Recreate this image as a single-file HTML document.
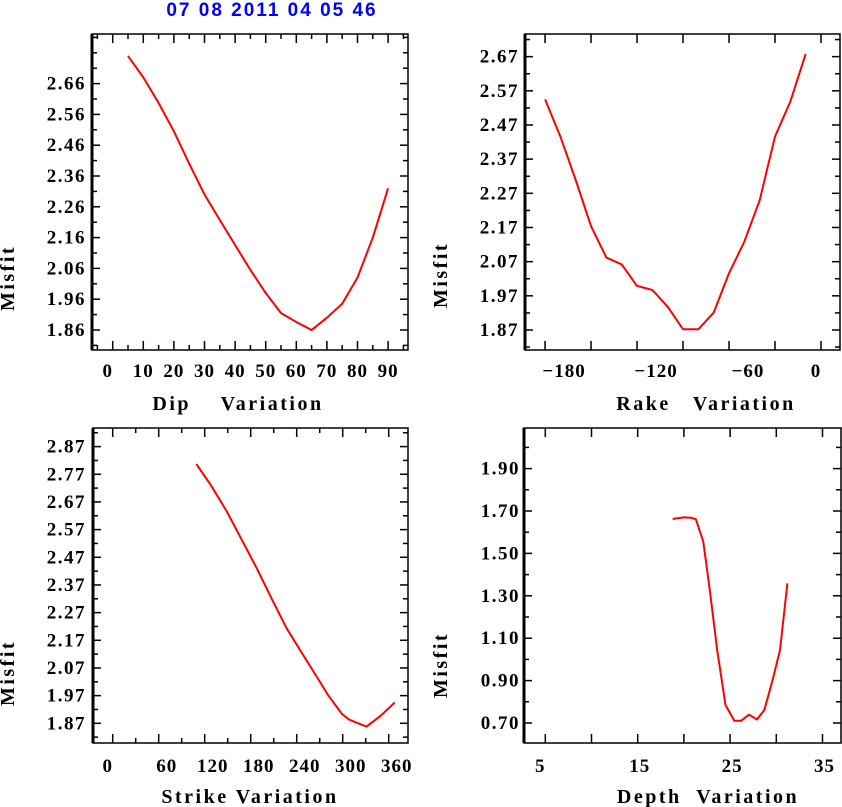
<!DOCTYPE html>
<html><head><meta charset="utf-8">
<style>
html,body{margin:0;padding:0;background:#fff;}
svg{display:block;}
text{font-family:"Liberation Serif",serif;white-space:pre;}
</style></head>
<body>
<svg id="chart" width="842" height="807" viewBox="0 0 842 807" xmlns="http://www.w3.org/2000/svg">
<text x="272" y="16" text-anchor="middle" fill="#0000ff" font-size="19" font-weight="bold" style="font-family:'Liberation Sans',sans-serif" letter-spacing="2">07 08 2011 04 05 46</text>
</svg>
<script>
// ---- Dip panel data ----
const dipX = [5,10,15,20,25,30,35,40,45,50,55,60,65,70,75,80,85,90];
const dipY = [2.75,2.68,2.597,2.505,2.40,2.30,2.217,2.136,2.055,1.98,1.915,1.886,1.86,1.90,1.945,2.03,2.16,2.32];
const dipXTicks = [0,10,20,30,40,50,60,70,80,90];
const dipYTicks = [1.86,1.96,2.06,2.16,2.26,2.36,2.46,2.56,2.66];
// ---- Rake panel data ----
const rakeX = [-180,-170,-160,-150,-140,-130,-120,-110,-100,-90,-80,-70,-60,-50,-40,-30,-20,-10];
const rakeY = [2.545,2.436,2.309,2.174,2.082,2.062,1.999,1.987,1.938,1.872,1.872,1.921,2.036,2.129,2.25,2.436,2.538,2.678];
const rakeXTicks = [-180,-120,-60,0];
const rakeYTicks = [1.87,1.97,2.07,2.17,2.27,2.37,2.47,2.57,2.67];
// ---- Strike panel data ----
const strikeX = [109,128,149,168,188,207,227,247,262,281,299,308,318,331,349,368];
const strikeY = [2.807,2.731,2.635,2.535,2.43,2.322,2.213,2.123,2.057,1.972,1.904,1.884,1.872,1.858,1.896,1.945];
const strikeXTicks = [0,60,120,180,240,300,360];
const strikeYTicks = [1.87,1.97,2.07,2.17,2.27,2.37,2.47,2.57,2.67,2.77,2.87];
// ---- Depth panel data ----
const depthX = [18.8,19.0,20.0,20.8,21.3,22.1,22.85,23.6,24.5,25.45,26.2,27.05,27.9,28.7,29.6,30.4,31.2];
const depthY = [1.661,1.664,1.670,1.668,1.661,1.555,1.312,1.044,0.785,0.711,0.711,0.739,0.717,0.761,0.903,1.044,1.359];
const depthXTicks = [5,15,25,35];
const depthYTicks = [0.70,0.90,1.10,1.30,1.50,1.70,1.90];

const NS = 'http://www.w3.org/2000/svg';
const svg = document.getElementById('chart');
function mk(tag, attrs, parent){
  const e = document.createElementNS(NS, tag);
  for (const k in attrs) e.setAttribute(k, attrs[k]);
  (parent||svg).appendChild(e);
  return e;
}

const panels = [
  {id:'dip', l:92, t:34, r:408, b:350, x0:112.7, xref:0, xs:3.06, yv:1.86, yp:330, ys:308,
   xs_data:dipX, ys_data:dipY, xt:dipXTicks, yt:dipYTicks, xmaj:10, xmin:5, ymin:0.05, dec:2,
   labR:86, xlabY:377, xoff:function(v){return v===0?-5:0;}, title:'Dip    Variation', tx:238, ty:410, mx:14, my:278},
  {id:'rake', l:525, t:34, r:840, b:350, x0:821, xref:0, xs:1.533, yv:1.87, yp:330, ys:341.7,
   xs_data:rakeX, ys_data:rakeY, xt:rakeXTicks, yt:rakeYTicks, xmaj:30, xmin:30, ymin:0.05, dec:2,
   labR:519, xlabY:377, xoff:function(v){return v===0?-5:19;}, title:'Rake   Variation', tx:706, ty:410, mx:447, my:275},
  {id:'strike', l:93, t:428, r:408, b:743, x0:112.7, xref:0, xs:0.7667, yv:1.87, yp:723.3, ys:276.7,
   xs_data:strikeX, ys_data:strikeY, xt:strikeXTicks, yt:strikeYTicks, xmaj:60, xmin:30, ymin:0.05, dec:2,
   labR:86, xlabY:772, xoff:function(v){return v===0?-5:8;}, title:'Strike Variation', tx:250, ty:803, mx:14, my:673},
  {id:'depth', l:524, t:428, r:841, b:743, x0:545.3, xref:5, xs:9.24, yv:0.70, yp:723, ys:212,
   xs_data:depthX, ys_data:depthY, xt:depthXTicks, yt:depthYTicks, xmaj:5, xmin:5, ymin:0.1, dec:2,
   labR:520, xlabY:772, xoff:function(v){return v===5?-5:2;}, title:'Depth  Variation', tx:708, ty:803, mx:447, my:665}
];

panels.forEach(function(p){
  const g = mk('g', {});
  
  
  const X = function(v){ return p.x0 + (v - p.xref) * p.xs; };
  const Y = function(v){ return p.yp - (v - p.yv) * p.ys; };
  const fr = mk('rect', {x:p.l, y:p.t, width:p.r-p.l, height:p.b-p.t, fill:'none', stroke:'#000', 'stroke-width':1.5}, g);
  
  
  const la = mk('line', {x1:p.l, y1:p.t, x2:p.l, y2:p.b, stroke:'#000', 'stroke-width':3}, g);
  
  
  const yTop = p.yv + (p.yp - p.t)/p.ys, yBot = p.yv - (p.b - p.yp)/p.ys;
  const n0 = Math.ceil((yBot - p.yv)/p.ymin - 1e-6), n1 = Math.floor((yTop - p.yv)/p.ymin + 1e-6);
  for (let i=n0;i<=n1;i++){
    const v = p.yv + i*p.ymin;
    const yy = Y(v);
    const major = p.yt.some(function(t){return Math.abs(t-v)<1e-6;});
    const len = major ? 8 : 5;
    mk('line', {x1:p.l, y1:yy, x2:p.l+len, y2:yy, stroke:'#000', 'stroke-width':1.5}, g);
    mk('line', {x1:p.r, y1:yy, x2:p.r-len, y2:yy, stroke:'#000', 'stroke-width':1.5}, g);
  }
  p.yt.forEach(function(v){
    const t = mk('text', {x:p.labR, y:Y(v)+6, 'text-anchor':'end', 'font-size':19, 'font-weight':'bold', 'letter-spacing':1.5, fill:'#000'}, g);
    
    
    t.textContent = v.toFixed(p.dec);
  });
  const xl = (p.l - X(0))/p.xs, xr = (p.r - X(0))/p.xs;
  const m0 = Math.ceil(xl/p.xmin), m1 = Math.floor(xr/p.xmin);
  for (let i=m0;i<=m1;i++){
    const v = i*p.xmin;
    const xx = X(v);
    if (xx < p.l+2 || xx > p.r-2) continue;
    const major = Math.abs(v/p.xmaj - Math.round(v/p.xmaj))<1e-6;
    const len = major ? 9 : 5;
    mk('line', {x1:xx, y1:p.b, x2:xx, y2:p.b-len, stroke:'#000', 'stroke-width':1.5}, g);
    mk('line', {x1:xx, y1:p.t, x2:xx, y2:p.t+len, stroke:'#000', 'stroke-width':1.5}, g);
  }
  p.xt.forEach(function(v){
    const t = mk('text', {x:X(v)+p.xoff(v), y:p.xlabY, 'text-anchor':'middle', 'font-size':19, 'font-weight':'bold', 'letter-spacing':1, fill:'#000'}, g);
    
    
    t.textContent = (v<0 ? '\u2212' : '') + Math.abs(v);
  });
  const tt = mk('text', {x:p.tx, y:p.ty, 'text-anchor':'middle', 'font-size':20, 'font-weight':'bold', fill:'#000', 'letter-spacing':2.5}, g);
  
  
  tt.textContent = p.title;
  const yt = mk('text', {x:0, y:0, transform:'translate('+(p.mx)+','+p.my+') rotate(-90)', 'text-anchor':'middle', 'font-size':20, 'font-weight':'bold', fill:'#000', 'letter-spacing':2.5}, g);
  
  
  yt.textContent = 'Misfit';
  const pts = p.xs_data.map(function(v,i){ return X(v).toFixed(1)+','+Y(p.ys_data[i]).toFixed(1); }).join(' ');
  const line = mk('polyline', {points:pts, fill:'none', stroke:'#ff0000', 'stroke-width':2}, g);
  
  
});
</script>
</body></html>
